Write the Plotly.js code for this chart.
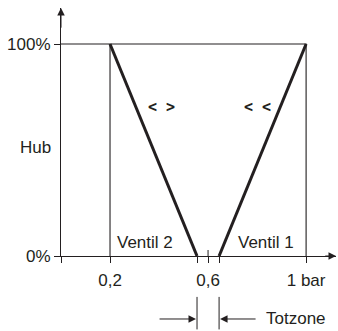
<!DOCTYPE html>
<html>
<head>
<meta charset="utf-8">
<script src="https://cdn.plot.ly/plotly-3.0.1.min.js"></script>
<style>html,body{margin:0;padding:0;background:#fff}#chart{width:338px;height:331px}</style>
</head>
<body>
<div id="chart"></div>
<script>
// Data
var ventil2X = [0.2, 0.555];
var ventil2Y = [100, 0];
var ventil1X = [0.645, 1];
var ventil1Y = [0, 100];
var frameX = [0.2, 0.2, null, 0, 1, 1];
var frameY = [0, 100, null, 100, 100, 0];
var xTickVals = [0, 0.2, 0.555, 0.6, 0.645, 1];
var xTickText = ['', '0,2', '', '0,6', '', '1 bar'];
var yTickVals = [0, 100];
var yTickText = ['0%', '100%'];
var deadZone = [0.555, 0.645];
var xMax = 1.122, yMax = 117;

var ink = '#231f20';
var fnt = {family: 'Liberation Sans, Arial, sans-serif', size: 17, color: ink};
var symFnt = {family: 'DejaVu Sans Mono, monospace', size: 15, color: ink, weight: 'bold'};

var traces = [
  {x: frameX, y: frameY, mode: 'lines', line: {color: ink, width: 1.1}, hoverinfo: 'skip', showlegend: false},
  {x: ventil2X, y: ventil2Y, mode: 'lines', line: {color: ink, width: 3}, name: 'Ventil 2', showlegend: false},
  {x: ventil1X, y: ventil1Y, mode: 'lines', line: {color: ink, width: 3}, name: 'Ventil 1', showlegend: false}
];

function arrowAnn(x, y, ax, ay, head) {
  return {x: x, y: y, ax: ax, ay: ay, xref: 'x', yref: 'y', axref: 'x', ayref: 'y',
    text: '', showarrow: true, arrowhead: head, arrowsize: 1.5, arrowwidth: 1, arrowcolor: ink, standoff: 0, startstandoff: 0};
}

var annotations = [
  arrowAnn(0, yMax, 0, yMax - 10, 2),
  arrowAnn(xMax, 0, xMax - 0.05, 0, 2),
  // Totzone markers
  {x: deadZone[0], y: -0.165, xref: 'x', yref: 'paper', ax: deadZone[0], axref: 'x', ay: 34, ayref: 'pixel', text: '', showarrow: true, arrowhead: 0, arrowwidth: 1, arrowcolor: ink, standoff: 0, startstandoff: 0},
  {x: deadZone[1], y: -0.165, xref: 'x', yref: 'paper', ax: deadZone[1], axref: 'x', ay: 34, ayref: 'pixel', text: '', showarrow: true, arrowhead: 0, arrowwidth: 1, arrowcolor: ink, standoff: 0, startstandoff: 0},
  {x: deadZone[0], y: -0.254, xref: 'x', yref: 'paper', ax: 0.396, axref: 'x', ay: 0, ayref: 'pixel', text: '', showarrow: true, arrowhead: 2, arrowsize: 1.5, arrowwidth: 1, arrowcolor: ink, standoff: 1, startstandoff: 0},
  {x: deadZone[1], y: -0.254, xref: 'x', yref: 'paper', ax: 0.80, axref: 'x', ay: 0, ayref: 'pixel', text: '', showarrow: true, arrowhead: 2, arrowsize: 1.5, arrowwidth: 1, arrowcolor: ink, standoff: 1, startstandoff: 0},
  {x: 0.83, y: -0.254, xref: 'x', yref: 'paper', text: 'Totzone', showarrow: false, xanchor: 'left', yanchor: 'middle', font: fnt},
  // labels
  {x: 0.343, y: 6.5, xref: 'x', yref: 'y', text: 'Ventil 2', showarrow: false, xanchor: 'center', font: fnt},
  {x: 0.837, y: 6.5, xref: 'x', yref: 'y', text: 'Ventil 1', showarrow: false, xanchor: 'center', font: fnt},
  {x: 0.408, y: 70.3, xref: 'x', yref: 'y', text: '&lt; &gt;', showarrow: false, xanchor: 'center', font: symFnt},
  {x: 0.80, y: 70.3, xref: 'x', yref: 'y', text: '&lt; &lt;', showarrow: false, xanchor: 'center', font: symFnt},
  {x: -0.091, y: 51, xref: 'paper', yref: 'y', text: 'Hub', showarrow: false, xanchor: 'center', yanchor: 'middle', font: fnt}
];

var shapes = [
  {type: 'line', xref: 'x', yref: 'y', ysizemode: 'pixel', yanchor: 0, x0: 0.6, x1: 0.6, y0: 0, y1: 6, line: {color: ink, width: 1}}
];

var layout = {
  width: 338, height: 331,
  margin: {l: 61, r: 2, t: 8, b: 75},
  paper_bgcolor: '#fff', plot_bgcolor: '#fff',
  showlegend: false,
  xaxis: {range: [0, xMax], showgrid: false, zeroline: false, showline: true, linecolor: ink, linewidth: 1,
    tickmode: 'array', tickvals: xTickVals, ticktext: xTickText, ticks: 'outside', ticklen: 6, tickcolor: ink, tickwidth: 1,
    ticklabelstandoff: 3, tickfont: fnt, fixedrange: true},
  yaxis: {range: [0, yMax], showgrid: false, zeroline: false, showline: true, linecolor: ink, linewidth: 1,
    tickmode: 'array', tickvals: yTickVals, ticktext: yTickText, ticks: 'outside', ticklen: 6, tickcolor: ink, tickwidth: 1,
    tickfont: fnt, fixedrange: true},
  annotations: annotations,
  shapes: shapes
};

Plotly.newPlot('chart', traces, layout, {displayModeBar: false, staticPlot: true});
</script>
</body>
</html>
